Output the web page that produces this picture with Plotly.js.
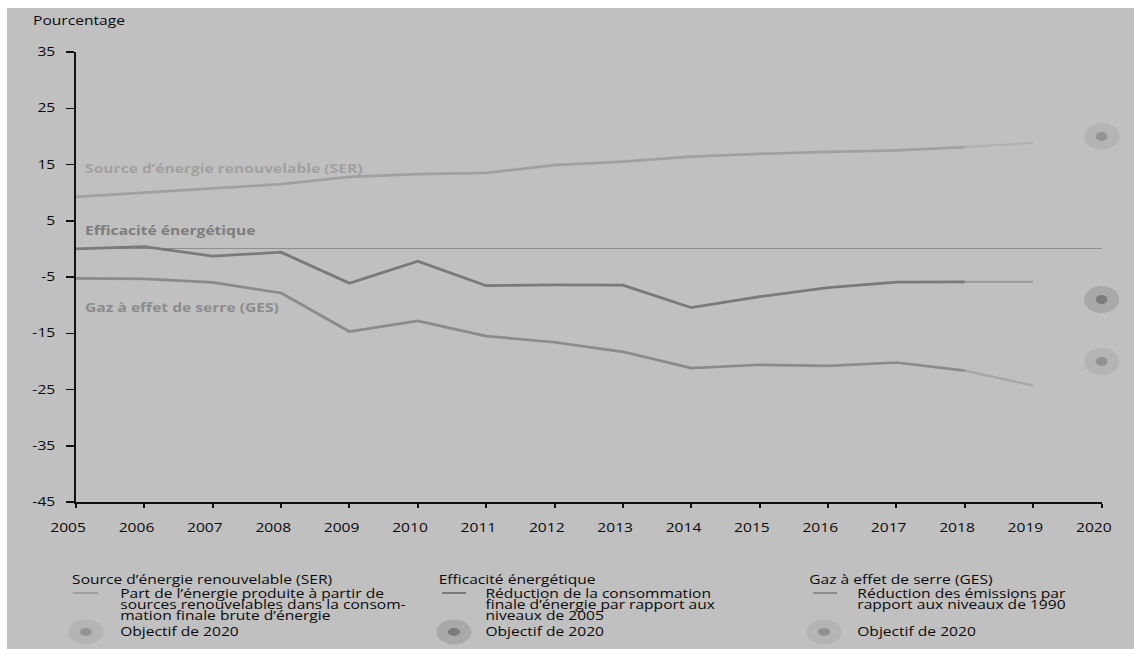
<!DOCTYPE html>
<html>
<head>
<meta charset="utf-8">
<script src="https://cdn.plot.ly/plotly-3.0.1.min.js"></script>
<style>
  html, body { margin: 0; padding: 0; background: #ffffff; width: 1134px; height: 649px; overflow: hidden; }
  #wrap { position: absolute; left: 7px; top: 8px; width: 867px; height: 641px;
          transform: scaleX(1.3); transform-origin: 0 0; background: #c0c0c0; }
</style>
</head>
<body>
<div id="wrap"><div id="chart"></div></div>
<script>
// ---- data ----
const years = [2005, 2006, 2007, 2008, 2009, 2010, 2011, 2012, 2013, 2014, 2015, 2016, 2017, 2018, 2019];
const tickYears = [2005, 2006, 2007, 2008, 2009, 2010, 2011, 2012, 2013, 2014, 2015, 2016, 2017, 2018, 2019, 2020];
const yTicks = [35, 25, 15, 5, -5, -15, -25, -35, -45];
const serValues = [9.25, 9.95, 10.75, 11.5, 12.8, 13.3, 13.5, 14.9, 15.5, 16.4, 16.9, 17.25, 17.5, 18.1, 18.85];
const effValues = [0, 0.4, -1.3, -0.6, -6.1, -2.2, -6.55, -6.4, -6.45, -10.45, -8.5, -6.9, -5.9, -5.85, -5.85];
const gesValues = [-5.25, -5.35, -5.95, -7.85, -14.7, -12.8, -15.5, -16.6, -18.3, -21.2, -20.6, -20.8, -20.2, -21.65, -24.3];
const targetYear = [2020];
const serTarget = [20];
const effTarget = [-9];
const gesTarget = [-20];

const seriesNames = ["Source d’énergie renouvelable (SER)", "Efficacité énergétique", "Gaz à effet de serre (GES)"];
const seriesDesc = [
  ["Part de l’énergie produite à partir de", "sources renouvelables dans la consom-", "mation finale brute d’énergie"],
  ["Réduction de la consommation", "finale d’énergie par rapport aux", "niveaux de 2005"],
  ["Réduction des émissions par", "rapport aux niveaux de 1990"]
];
const targetLabel = "Objectif de 2020";
const yTitle = "Pourcentage";

// ---- styles ----
const lineCol = ["#a0a0a0", "#7a7a7a", "#8b8b8b"];
const fadeCol = ["#b2b2b2", "#9c9c9c", "#a6a6a6"];
const haloCol = ["#b4b4b4", "#a9a9a9", "#b4b4b4"];
const dotCol = ["#949494", "#7c7c7c", "#919191"];
const labelCol = ["#a0a0a0", "#7d7d7d", "#8c8c8c"];
const TXT = "#0a0a0a";
const FONT = "Open Sans, Noto Sans, sans-serif";

const values = [serValues, effValues, gesValues];
const targets = [serTarget, effTarget, gesTarget];
const lastIdx = years.length - 2; // 2018 index

const traces = [];
values.forEach((v, i) => {
  traces.push({ x: years.slice(0, lastIdx + 1), y: v.slice(0, lastIdx + 1), type: "scatter", mode: "lines",
    line: { color: lineCol[i], width: 2.7 }, hoverinfo: "skip", showlegend: false });
  traces.push({ x: years.slice(lastIdx), y: v.slice(lastIdx), type: "scatter", mode: "lines",
    line: { color: fadeCol[i], width: 2.2 }, hoverinfo: "skip", showlegend: false });
});
targets.forEach((t, i) => {
  traces.push({ x: targetYear, y: t, type: "scatter", mode: "markers", cliponaxis: false,
    marker: { size: 27, color: haloCol[i] }, hoverinfo: "skip", showlegend: false });
  traces.push({ x: targetYear, y: t, type: "scatter", mode: "markers", cliponaxis: false,
    marker: { size: 9, color: dotCol[i] }, hoverinfo: "skip", showlegend: false });
});

// inline labels
const inlineY = [14.35, 3.2, -10.45];
const annotations = [];
seriesNames.forEach((n, i) => {
  annotations.push({ text: "<b>" + n + "</b>", x: 2005, y: inlineY[i], xref: "x", yref: "y",
    xanchor: "left", yanchor: "middle", xshift: 5, showarrow: false,
    font: { family: FONT, size: 12, color: labelCol[i] } });
});
annotations.push({ text: yTitle, xref: "paper", yref: "paper", x: -0.0445, y: 1.071,
  xanchor: "left", yanchor: "middle", showarrow: false, font: { family: FONT, size: 12, color: TXT } });

// legend block (paper coords)
const colHeaderX = [-0.0067, 0.351, 0.7128];
const colLineX0 = [-0.0028, 0.357, 0.7186];
const colLineX1 = [0.0216, 0.3804, 0.742];
const colTextX = [0.040, 0.397, 0.7596];
const colCircX = [0.0097, 0.3686, 0.7294];
const py = p => (502 - p) / 450;
const shapes = [];
seriesNames.forEach((n, i) => {
  annotations.push({ text: n, xref: "paper", yref: "paper", x: colHeaderX[i], y: py(579),
    xanchor: "left", yanchor: "middle", showarrow: false, font: { family: FONT, size: 12, color: TXT } });
  seriesDesc[i].forEach((line, k) => {
    annotations.push({ text: line, xref: "paper", yref: "paper", x: colTextX[i], y: py(593 + 11 * k),
      xanchor: "left", yanchor: "middle", showarrow: false, font: { family: FONT, size: 12, color: TXT } });
  });
  annotations.push({ text: targetLabel, xref: "paper", yref: "paper", x: colTextX[i], y: py(632),
    xanchor: "left", yanchor: "middle", showarrow: false, font: { family: FONT, size: 12, color: TXT } });
  shapes.push({ type: "line", xref: "paper", yref: "paper", x0: colLineX0[i], x1: colLineX1[i], y0: py(593), y1: py(593),
    line: { color: lineCol[i], width: 2 } });
  shapes.push({ type: "circle", xref: "paper", yref: "paper", xsizemode: "pixel", ysizemode: "pixel",
    xanchor: colCircX[i], yanchor: py(632), x0: -13.5, x1: 13.5, y0: -12.5, y1: 12.5,
    fillcolor: haloCol[i], line: { width: 0 } });
  shapes.push({ type: "circle", xref: "paper", yref: "paper", xsizemode: "pixel", ysizemode: "pixel",
    xanchor: colCircX[i], yanchor: py(632), x0: -4.8, x1: 4.8, y0: -3.9, y1: 3.9,
    fillcolor: dotCol[i], line: { width: 0 } });
});

const layout = {
  width: 867, height: 641,
  margin: { l: 53, r: 25, t: 44, b: 147 },
  paper_bgcolor: "#c0c0c0", plot_bgcolor: "#c0c0c0",
  font: { family: FONT, size: 12, color: TXT },
  showlegend: false,
  xaxis: { range: [2005, 2020], tickvals: tickYears, ticktext: tickYears.map(String),
    showgrid: false, zeroline: false, showline: true, linecolor: "#111", linewidth: 1.5,
    ticks: "outside", ticklen: 4, tickwidth: 1.5, tickcolor: "#111",
    ticklabelstandoff: 10, ticklabelshift: -6, tickfont: { family: FONT, size: 12, color: TXT }, fixedrange: true },
  yaxis: { range: [-45, 35], tickvals: yTicks, ticktext: yTicks.map(String),
    showgrid: false, zeroline: true, zerolinecolor: "#8e8e8e", zerolinewidth: 1,
    showline: true, linecolor: "#111", linewidth: 1.5,
    ticks: "outside", ticklen: 6, tickwidth: 1.5, tickcolor: "#111",
    ticklabelstandoff: 6, tickfont: { family: FONT, size: 12, color: TXT }, fixedrange: true },
  annotations: annotations,
  shapes: shapes
};

Plotly.newPlot("chart", traces, layout, { staticPlot: true, displayModeBar: false });
</script>
</body>
</html>
